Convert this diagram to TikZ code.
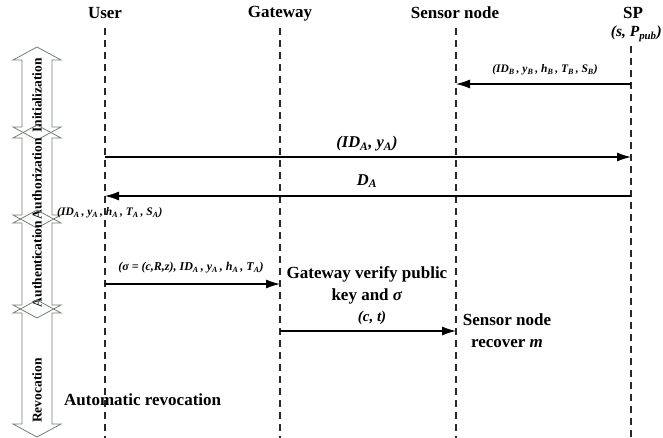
\documentclass[tikz,border=0pt]{standalone}
\usepackage{fontspec}
\setmainfont{Liberation Serif}
\usetikzlibrary{arrows.meta}
\definecolor{phasec}{RGB}{115,128,118}
\definecolor{lifec}{RGB}{40,40,40}
\newcommand\bi[1]{\textbf{\textit{#1}}}
\newcommand\sbs[1]{\textsubscript{\textbf{\textit{#1}}}}
\newcommand\phasearrow[6]{%
  \begin{scope}[shift={(#1,#2)}]
    \draw[phasebox] (0,0) -- (24,13) -- (15,13) -- (15,{#3-13}) -- (24,{#3-13}) -- (0,#3)
      -- (-24,{#3-13}) -- (-15,{#3-13}) -- (-15,13) -- (-24,13) -- cycle;
    \node[phaselabel] (#4) at (0,{#3/2+#6}) {#5};
  \end{scope}}
\begin{document}
\begin{tikzpicture}[x=1pt,y=-1pt,
  phasebox/.style={draw=phasec, line width=0.8pt},
  phaselabel/.style={rotate=90, font=\fontsize{13.5}{15}\selectfont\bfseries, inner sep=1pt},
  header/.style={font=\fontsize{17}{19}\selectfont\bfseries, inner sep=0pt},
  lifeline/.style={draw=lifec, line width=1.3pt, dash pattern=on 7pt off 5pt},
  msg/.style={line width=1.1pt, -{Latex[length=14pt,width=9pt]}},
  biglab/.style={font=\fontsize{16.5}{18}\selectfont, inner sep=0pt},
  smalllab/.style={font=\fontsize{11.5}{13}\selectfont, inner sep=0pt},
  note/.style={font=\fontsize{17}{22}\selectfont\bfseries, inner sep=0pt, align=center}]
\useasboundingbox (0,0) rectangle (663,438);

% headers
\node[header] (hu) at (105,13) {User};
\node[header] (hg) at (280,14) {Gateway};
\node[header] (hs) at (455,13) {Sensor node};
\node[header] (hp) at (633,13) {SP};
\node[biglab, anchor=east, font=\fontsize{15.5}{17}\selectfont] (spk) at (662,34) {\bi{(s, P\sbs{pub})}};

% lifelines
\coordinate (ut) at (105,28); \coordinate (ub) at (105,438);
\coordinate (gt) at (280,28); \coordinate (gb) at (280,438);
\coordinate (st) at (456,28); \coordinate (sb) at (456,438);
\coordinate (pt) at (631,46); \coordinate (pb) at (631,438);
\draw[lifeline] (ut) -- (ub);
\draw[lifeline] (gt) -- (gb);
\draw[lifeline] (st) -- (sb);
\draw[lifeline] (pt) -- (pb);

% phase arrows
\phasearrow{37}{47}{93}{ph1}{Initialization}{2}
\phasearrow{37}{125}{103}{ph2}{Authorization}{2}
\phasearrow{37}{210}{108}{ph3}{Authentication}{0}
\phasearrow{37}{300}{137}{ph4}{Revocation}{22}

% message end points
\coordinate (p1) at (631,84);  \coordinate (s1) at (456,84);
\coordinate (u2) at (105,157); \coordinate (p2) at (631,157);
\coordinate (p3) at (631,196); \coordinate (u3) at (105,196);
\coordinate (u4) at (105,284); \coordinate (g4) at (280,284);
\coordinate (g5) at (280,331); \coordinate (s5) at (456,331);

\draw[msg] (p1) -- (s1);
\node[smalllab] (m1) at (545,70) {\bi{(ID\sbs{B}\,, y\sbs{B}\,, h\sbs{B}\,, T\sbs{B}\,, S\sbs{B})}};

\draw[msg] (u2) -- (p2);
\node[biglab] (m2) at (367,144) {\bi{(ID\sbs{A}, y\sbs{A})}};

\draw[msg] (p3) -- (u3);
\node[biglab] (m3) at (367,181) {\bi{D\sbs{A}}};

\node[smalllab, anchor=west] (m3b) at (57,213) {\bi{(ID\sbs{A}\,, y\sbs{A}\,, h\sbs{A}\,, T\sbs{A}\,, S\sbs{A})}};

\draw[msg] (u4) -- (g4);
\node[smalllab, font=\fontsize{12}{13}\selectfont] (m4) at (191,268) {\bi{(σ = (c,R,z), ID\sbs{A}\,, y\sbs{A}\,, h\sbs{A}\,, T\sbs{A})}};

\node[note] (gv) at (367,285) {Gateway verify public\\key and \bi{σ}};

\draw[msg] (g5) -- (s5);
\node[biglab, font=\fontsize{15}{16}\selectfont] (m5) at (372,318) {\bi{(c, t)}};

\node[note] (sr) at (507,331) {Sensor node\\recover \bi{m}};

\node[note, anchor=west] (ar) at (64,400) {Automatic revocation};
\end{tikzpicture}
\end{document}
